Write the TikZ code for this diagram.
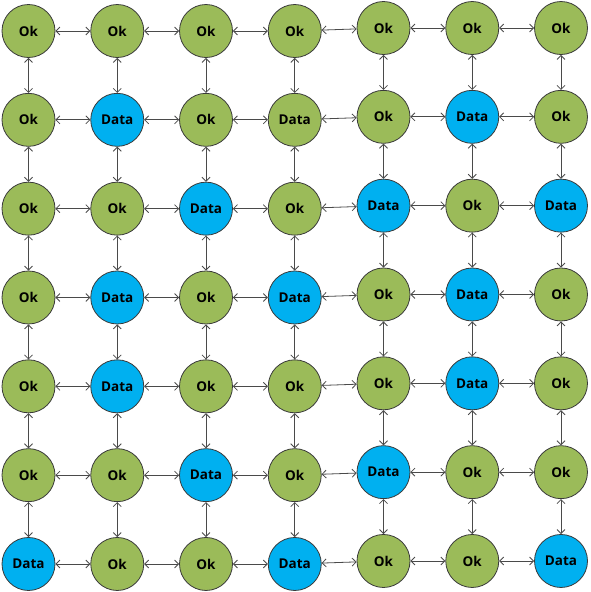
\documentclass[tikz,border=0pt]{standalone}
\usepackage{fontspec}
\setmainfont{Open Sans}
\usetikzlibrary{arrows.meta}
\definecolor{okgreen}{HTML}{9BBB59}
\definecolor{datablue}{HTML}{00B0F0}
\definecolor{edgegray}{HTML}{3A3A3A}
\definecolor{linkgray}{HTML}{4A4A4A}
\newcommand\labokn{Ok}
\newcommand\labdatan{Data}
\newcommand\labgdatan{Data}
\tikzset{
  cell/.style={circle, draw=edgegray, line width=0.8pt, minimum size=53pt, inner sep=0pt,
    font=\fontsize{13.5}{14}\selectfont\bfseries, text=black},
  okn/.style={cell, fill=okgreen},
  gdatan/.style={cell, fill=okgreen},
  datan/.style={cell, fill=datablue},
  link/.style={draw=linkgray, line width=0.8pt, {Straight Barb[length=4pt,width=8pt]}-{Straight Barb[length=4pt,width=8pt]}}
}
\begin{document}
\begin{tikzpicture}[x=1pt,y=-1pt]
\useasboundingbox (0,0) rectangle (591,592);
\foreach \r/\labs in {
  1/{okn,okn,okn,okn,okn,okn,okn},
  2/{okn,datan,okn,gdatan,okn,datan,okn},
  3/{okn,okn,datan,okn,datan,okn,datan},
  4/{okn,datan,okn,datan,okn,datan,okn},
  5/{okn,datan,okn,okn,okn,datan,okn},
  6/{okn,okn,datan,okn,datan,okn,okn},
  7/{datan,okn,okn,datan,okn,okn,datan}}{
  \foreach \t [count=\c] in \labs {
    \pgfmathsetmacro{\xx}{28.5+(\c-1)*88.75}
    \pgfmathsetmacro{\yy}{31+(\r-1)*88.83-(\c>4?3:0)}
    \node[\t] (n-\r-\c) at (\xx,\yy) {\csname lab\t\endcsname};
  }
}
\foreach \r in {1,...,7}{
  \foreach \c in {1,...,6}{
    \pgfmathtruncatemacro{\cn}{\c+1}
    \draw[link] (n-\r-\c) -- (n-\r-\cn);
  }
}
\foreach \r in {1,...,6}{
  \foreach \c in {1,...,7}{
    \pgfmathtruncatemacro{\rn}{\r+1}
    \draw[link] (n-\r-\c) -- (n-\rn-\c);
  }
}
\end{tikzpicture}
\end{document}
